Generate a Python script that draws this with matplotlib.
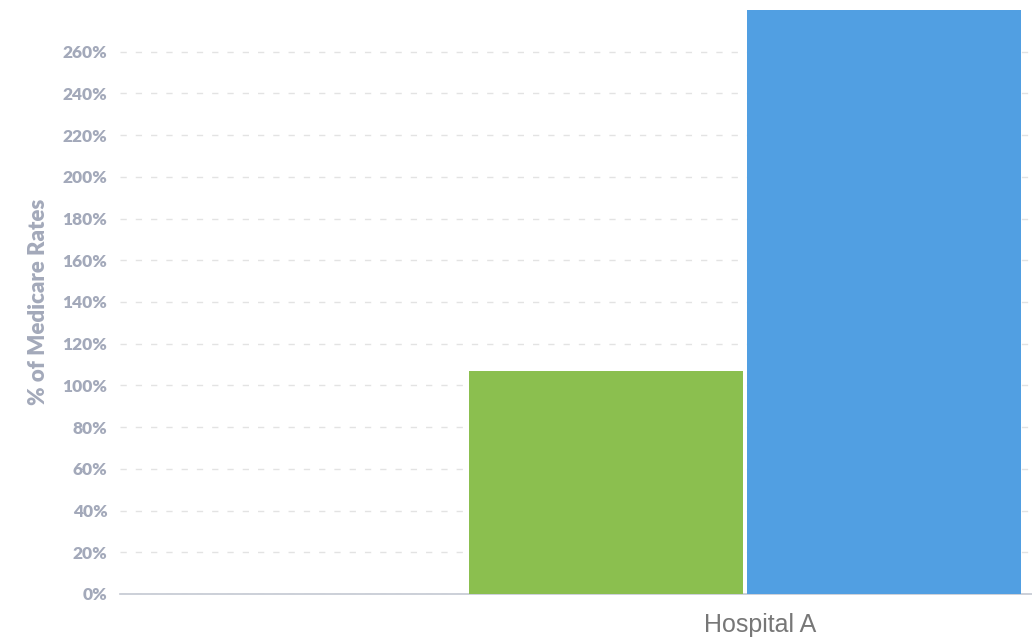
import matplotlib
matplotlib.use("Agg")
import matplotlib.pyplot as plt
import matplotlib.transforms as mtransforms

# hospital rates as % of Medicare
categories = ["Hospital A"]
series_colors = ["#8BBF4F", "#519FE2"]
series_values = [[107], [280]]
series_offsets = [-0.5, 0.5]
bar_width = 0.986
y_ticks = list(range(0, 261, 20))

AXIS_GREY = "#A3A9BA"

fig = plt.figure(figsize=(10.32, 6.38), dpi=100)
ax = fig.add_axes([120 / 1032, 44 / 638, 912 / 1032, 584 / 638])

for vals, off, col in zip(series_values, series_offsets, series_colors):
    xs = [i + off for i in range(len(categories))]
    ax.bar(xs, vals, width=bar_width, color=col, zorder=3)

ax.set_xlim(-2.248, 1.032)
ax.set_ylim(0, 280)
ax.set_yticks(y_ticks)
ax.set_yticklabels([f"{t}%" for t in y_ticks])

ax.grid(axis="y", color="#E3E3E3", linestyle=(0, (4.5, 6.5)), linewidth=1.0, zorder=0)
ax.set_axisbelow(True)

for side in ("left", "right", "top"):
    ax.spines[side].set_visible(False)
ax.spines["bottom"].set_color("#C4C8D2")
ax.spines["bottom"].set_linewidth(1.2)

ax.tick_params(axis="y", length=0, pad=9, labelsize=12.5, labelcolor=AXIS_GREY)
for lbl in ax.get_yticklabels():
    lbl.set_fontfamily("Lato")
    lbl.set_fontweight("heavy")

ax.set_xticks(range(len(categories)))
ax.set_xticklabels(categories, fontsize=18, color="#777777", fontfamily="Liberation Sans")
ax.tick_params(axis="x", length=0, pad=14)
shift = mtransforms.ScaledTranslation(15 / 100, 0, fig.dpi_scale_trans)
for lbl in ax.get_xticklabels():
    lbl.set_transform(lbl.get_transform() + shift)

ax.set_ylabel("% of Medicare Rates", fontsize=16, fontweight="heavy",
              color=AXIS_GREY, fontfamily="Lato", labelpad=10)

fig.savefig("out.png", dpi=100)
